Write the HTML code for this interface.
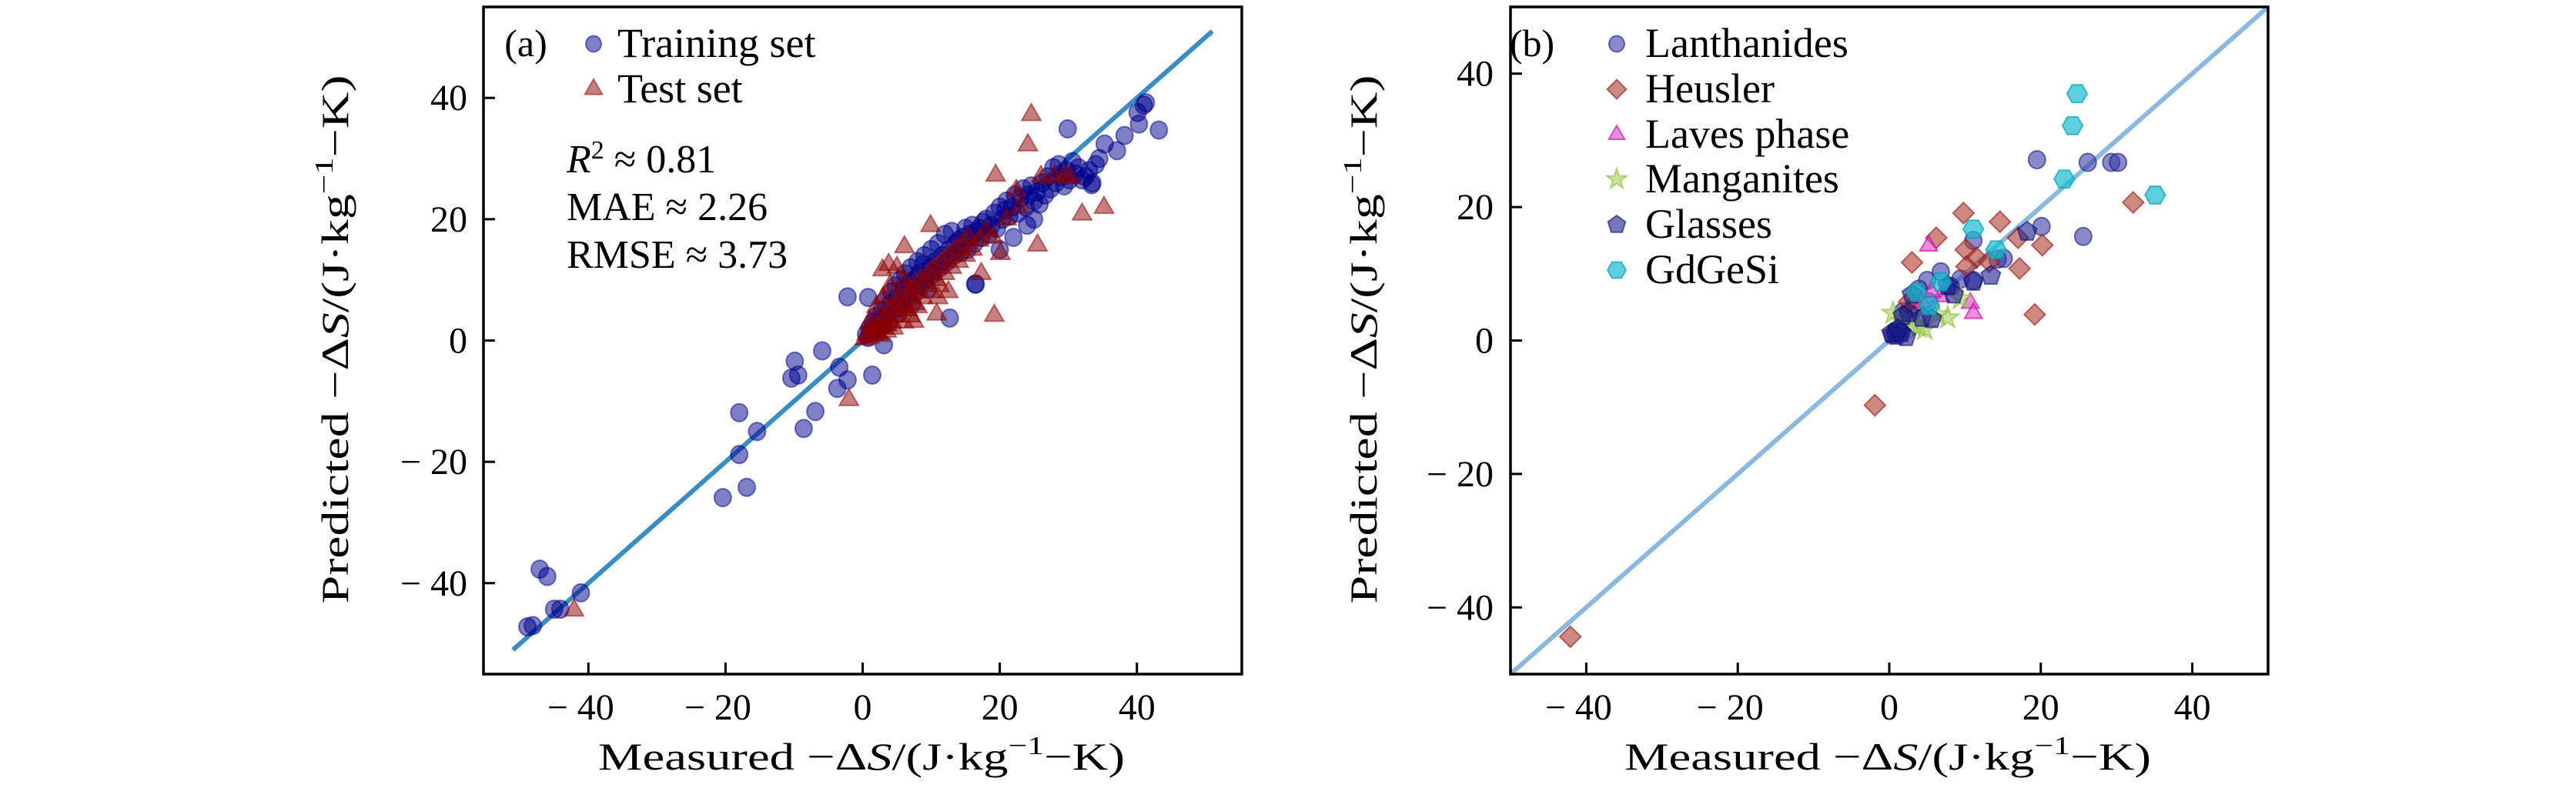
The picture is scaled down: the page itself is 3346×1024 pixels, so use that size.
<!DOCTYPE html>
<html><head><meta charset="utf-8"><style>
body{margin:0;background:#fff}
svg{display:block}
text{font-family:"Liberation Serif","DejaVu Serif",serif;fill:#000}
</style></head><body>
<svg id="fig" width="3346" height="1024" viewBox="0 0 3346 1024" xmlns="http://www.w3.org/2000/svg">
<rect width="3346" height="1024" fill="#fff"/>
<g id="pa"></g>
<g id="pb"></g>
</svg>
<script>
// ---- data ----
const ticksA = [-40,-20,0,20,40];
const ticksB = [-40,-20,0,20,40];
const trainX = [29.9,43.2,41.3,41,40.1,40.3,38.2,37.1,35.3,33.4,-2.2,0.8,12.7,3.1,-5.9,-9.9,-9.4,-10.4,-3.4,-2.2,-3.7,1.4,-18,-6.9,-8.6,-15.4,-18,-16.9,-20.4,-47.1,-46,-41.1,-45,-44.1,-48.9,-48.1,16.4,
0.5,0.8,1,1.2,1.5,1.8,2,2.2,2.5,2.8,3,3.2,3.5,3.8,4,4.2,4.5,4.8,5,5.2,5.5,5.8,6,6.2,6.5,6.8,7,7.2,7.5,7.8,8,8.2,8.5,8.8,9,9.2,9.5,9.8,10,10.3,10.6,11,11.3,11.6,12,12.3,12.6,13,13.3,13.6,14,14.3,14.6,15,15.3,15.6,16,16.3,16.6,17,17.3,17.6,18,18.4,18.8,19.2,19.6,20,20.4,20.8,21,21.4,21.8,22.2,22.6,23,23.4,23.8,24.2,24.6,25,25.4,25.8,26.2,26.6,27,27.4,27.8,28.2,28.6,29,29.4,29.8,30.2,30.6,31,31.5,32,32.5,33,33.5,34,34.5,16.5,20,22,25,24];
const trainY = [34.9,34.7,39.2,38.8,37.6,35.7,33.8,31.3,32.4,25.7,7.2,7.1,3.7,-0.7,-1.7,-3.4,-5.7,-6.2,-4.4,-6.5,-7.9,-5.7,-11.9,-11.7,-14.5,-15,-18.8,-24.2,-25.9,-37.7,-38.9,-41.6,-44.3,-44.3,-47.2,-47,9.3,
1,0.5,2,1.5,3,2.2,4,1.8,3.5,5,2.5,6.5,4,3,6,8,5,9,7,4.5,10,6,8.5,11,7,9.5,12,6,10,8,13,11,9,12.5,14,10,8.5,12,15,11,13,16,12,14,17.5,13,15,18,14,16,16.5,14.5,17,18.5,15,17.5,19,16,18,18.5,17,19.5,20,17.5,19,21,18.5,22,20,21.5,23,20.5,22,24,21,23.5,25,22,24,25.5,23,24.5,22.5,26,24,27,25,28.5,26,29,27,25.5,28,26.5,29.5,27.5,28.5,26.5,27,28,26,29,30,9.3,15,17,20,19];
const testX = [24.6,24.1,19.4,32,35.2,25.5,19.2,9.9,6.1,2.9,-2,-42.1,17.3,20.1,22.4,29.4,30.3,10.8,7.5,
0.3,0.6,1,1.3,1.6,2,2.3,2.6,3,3.3,3.6,4,4.3,4.6,5,5.3,5.6,6,6.3,6.6,7,7.3,7.6,8,8.4,8.8,9.2,9.6,10,10.4,10.8,11.2,11.6,12,12.5,13,13.5,14,14.5,15,15.5,16,17,18,19,21,23,26,28,1,2,3,4,5,6,2.5,3.5,4.5,6,7,8,11,3.8,12.5];
const testY = [37.2,32.2,27.2,20.8,21.9,15.7,4.1,18.9,15.4,11.6,-9.8,-44.5,11,14.3,24.7,27.2,26.8,4.3,3.1,
0.2,1,0.5,2,1,2.5,1.2,3,2,4,2.5,5,3,6,4,7,5,6,8,5,7.5,9,6,8,10,7,9.5,11,8,12,10,9,13,11,14,12,15,13,16,14,17,15,16.5,18,17,20,22,27,27,3,5.5,7,9,12,10,0.8,1.5,2,3,4,5.5,7,12.5,8];
const lanX=[19.5,26.2,29.3,30.2,25.6,20.1,11.1,15.1,14.3,6.8,5,3.9,9.4,8.1,1.8,0.8,1.4,5.2,11.1];
const lanY=[27.1,26.7,26.7,26.7,15.6,17.1,15,12.3,12.2,10.3,9,7.7,9.2,8.1,4.3,1.3,1.7,5.8,9];
const heuX=[9.8,14.6,6.2,3,10.1,11.5,10.2,13.2,17,17.2,20.2,19.2,32.2,-1.9,-42.1,3,2.6];
const heuY=[19.1,17.8,15.4,11.7,13.6,12.4,11.1,11.8,15.4,10.8,14.3,3.9,20.7,-9.7,-44.4,5,5.8];
const lavX=[5.2,10.7,11.1,6.8,4.3,5.6];
const lavY=[14.2,5.6,4.1,6.6,5.8,7.3];
const manX=[7.7,9.4,0.5,3.9,4.7,1.8,6.4,3];
const manY=[3.4,6.3,4.1,2,1.7,2.8,3.9,2.4];
const glaX=[18.2,13.4,11.1,8.5,7.7,5.6,4.3,2.6,1.8,1.4,0.5,0.9,2.2,0.3,1.6,1.1,3];
const glaY=[16.3,9.7,8.8,6.9,8.2,3.2,3.4,4.1,3.7,1.3,0.9,0.7,0.5,1.1,1.1,1.7,6.9];
const gdX=[24.8,24.2,23.1,35.1,11.1,14.1,6.8,3.6,5.3];
const gdY=[37,32.2,24.2,21.8,16.7,13.6,8.8,7.2,5.2];

const NS="http://www.w3.org/2000/svg";
function mk(tag,attrs,parent){const e=document.createElementNS(NS,tag);for(const k in attrs)e.setAttribute(k,attrs[k]);parent.appendChild(e);return e;}
function shape(kind,cx,cy,r){
  let n,rot;
  if(kind==='tri'){n=3;rot=-90}else if(kind==='dia'){n=4;rot=-90}else if(kind==='pent'){n=5;rot=-90}else if(kind==='hex'){n=6;rot=0}
  else if(kind==='star'){let p=[];for(let i=0;i<10;i++){const a=(-90+i*36)*Math.PI/180;const rr=i%2?r*0.45:r*1.15;p.push((cx+rr*Math.cos(a)).toFixed(1)+','+(cy+rr*Math.sin(a)).toFixed(1));}return p.join(' ');}
  let p=[];for(let i=0;i<n;i++){const a=(rot+i*360/n)*Math.PI/180;p.push((cx+r*Math.cos(a)).toFixed(1)+','+(cy+r*Math.sin(a)).toFixed(1));}
  return p.join(' ');
}
function drawMarker(g,kind,cx,cy,r,fill,stroke,op){
  let e;
  if(kind==='circ'){e=mk('ellipse',{cx:cx,cy:cy,rx:r,ry:r*1.05,fill:fill,'fill-opacity':op,stroke:stroke,'stroke-opacity':op,'stroke-width':2},g);}
  else{e=mk('polygon',{points:shape(kind,cx,cy,kind==='dia'?r*1.25:r*1.2),fill:fill,'fill-opacity':op,stroke:stroke,'stroke-opacity':op,'stroke-width':2},g);}
  return e;
}

function panel(g,L,R,T,B,xmin,xmax,ymin,ymax,ticks,ylabX,tickRight){
  const sx=v=>L+(v-xmin)/(xmax-xmin)*(R-L);
  const sy=v=>B-(v-ymin)/(ymax-ymin)*(B-T);
  ticks.forEach(t=>{
    const x=sx(t);
    const tk=mk('line',{x1:x,y1:B,x2:x,y2:B-15,stroke:'#000','stroke-width':3},g);
    
    
    const lb=mk('text',{x:x-(t<0?10:0),y:935,'font-size':48,'text-anchor':'middle'},g);
    lb.textContent=(t<0?'\u2212 ':'')+Math.abs(t);
    
    
    const y=sy(t);
    const tk2=mk('line',{x1:L,y1:y,x2:L+15,y2:y,stroke:'#000','stroke-width':3},g);
    
    
    const lb2=mk('text',{x:tickRight,y:y+16,'font-size':48,'text-anchor':'end'},g);
    lb2.textContent=(t<0?'\u2212 ':'')+Math.abs(t);
    
    
  });
  return {sx,sy};
}
function frame(g,L,R,T,B){
  const f=mk('rect',{x:L,y:T,width:R-L,height:B-T,fill:'none',stroke:'#000','stroke-width':3.5},g);
  
  
}
function labels(g,cx,ylx,yCenter){
  const xl=mk('text',{x:cx,y:1000,'font-size':50,'text-anchor':'middle',textLength:684,lengthAdjust:'spacingAndGlyphs'},g);
  xl.innerHTML='Measured  \u2212\u0394<tspan font-style="italic">S</tspan>/(J\u00b7kg<tspan dy="-20" font-size="34">\u22121</tspan><tspan dy="20">\u2212K)</tspan>';
  
  
  const yl=mk('text',{x:0,y:0,'font-size':50,'text-anchor':'middle',textLength:687,lengthAdjust:'spacingAndGlyphs',transform:`translate(${ylx},${yCenter}) rotate(-90)`},g);
  yl.innerHTML='Predicted  \u2212\u0394<tspan font-style="italic">S</tspan>/(J\u00b7kg<tspan dy="-20" font-size="34">\u22121</tspan><tspan dy="20">\u2212K)</tspan>';
  
  
}

// ---- panel a ----
(function(){
  const g=document.getElementById('pa');
  const L=628,R=1613,T=9,B=876;
  const ax=panel(g,L,R,T,B,-55.3,55.3,-55,55,ticksA,0,607);
  const ln=mk('line',{x1:ax.sx(-51),y1:ax.sy(-51),x2:ax.sx(51),y2:ax.sy(51),stroke:'#3a8cc4','stroke-width':6},g);
  
  
  const gt=mk('g',{},g);
  
  
  trainX.forEach((x,i)=>{
    const m=drawMarker(gt,'circ',ax.sx(x),ax.sy(trainY[i]),11,'#00008b','#00008b',0.5);
    
    
  });
  const gs=mk('g',{},g);
  
  
  testX.forEach((x,i)=>{
    const m=drawMarker(gs,'tri',ax.sx(x),ax.sy(testY[i]),12,'#8b0000','#8b0000',0.5);
    
    
  });
  frame(g,L,R,T,B);
  const pl=mk('text',{x:683,y:73,'font-size':50,'text-anchor':'middle'},g);pl.textContent='(a)';
  
  
  const m1=drawMarker(g,'circ',771,57,10,'#00008b','#00008b',0.5);
  
  
  const t1=mk('text',{x:802,y:74,'font-size':54},g);t1.textContent='Training set';
  
  
  const m2=drawMarker(g,'tri',771,116,11,'#8b0000','#8b0000',0.5);
  
  
  const t2=mk('text',{x:802,y:133,'font-size':54},g);t2.textContent='Test set';
  
  
  const s1=mk('text',{x:736,y:224,'font-size':52},g);
  s1.innerHTML='<tspan font-style="italic">R</tspan><tspan dy="-18" font-size="34">2</tspan><tspan dy="18"> \u2248 0.81</tspan>';
  
  
  const s2=mk('text',{x:736,y:286,'font-size':52},g);s2.textContent='MAE \u2248 2.26';
  
  
  const s3=mk('text',{x:736,y:348,'font-size':52},g);s3.textContent='RMSE \u2248 3.73';
  
  
  labels(g,1119,452,441);
})();

// ---- panel b ----
(function(){
  const g=document.getElementById('pb');
  const L=1962,R=2946,T=9,B=876;
  const ax=panel(g,L,R,T,B,-50,50,-50,50,ticksB,0,1940);
  const ln=mk('line',{x1:ax.sx(-50),y1:ax.sy(-50),x2:ax.sx(50),y2:ax.sy(50),stroke:'#8ab8df','stroke-width':6},g);
  
  
  const series=[
    ['lanthanides','circ',lanX,lanY,'#3a3aa8','#1a1a80',0.6,'Lanthanides'],
    ['heusler','dia',heuX,heuY,'#b03a2e','#8b1a1a',0.6,'Heusler'],
    ['laves-phase','tri',lavX,lavY,'#e040c8','#c000a0',0.6,'Laves phase'],
    ['manganites','star',manX,manY,'#a8cf5a','#8fbf3a',0.6,'Manganites'],
    ['glasses','pent',glaX,glaY,'#1a1a8c','#10106e',0.6,'Glasses'],
    ['gdgesi','hex',gdX,gdY,'#17becf','#0aa0b0',0.7,'GdGeSi']
  ];
  const legY=[57,116,175,233,292,351];
  series.forEach((s,k)=>{
    const gs=mk('g',{},g);
    
    
    s[2].forEach((x,i)=>{
      const m=drawMarker(gs,s[1],ax.sx(x),ax.sy(s[3][i]),11,s[4],s[5],s[6]);
      
      
    });
    const lm=drawMarker(g,s[1],2100,legY[k],10,s[4],s[5],s[6]);
    
    
    const lt=mk('text',{x:2137,y:legY[k]+17,'font-size':54},g);lt.textContent=s[7];
    
    
  });
  frame(g,L,R,T,B);
  const pl=mk('text',{x:1990,y:73,'font-size':50,'text-anchor':'middle'},g);pl.textContent='(b)';
  
  
  labels(g,2452,1788,441);
})();
</script>
</body></html>
